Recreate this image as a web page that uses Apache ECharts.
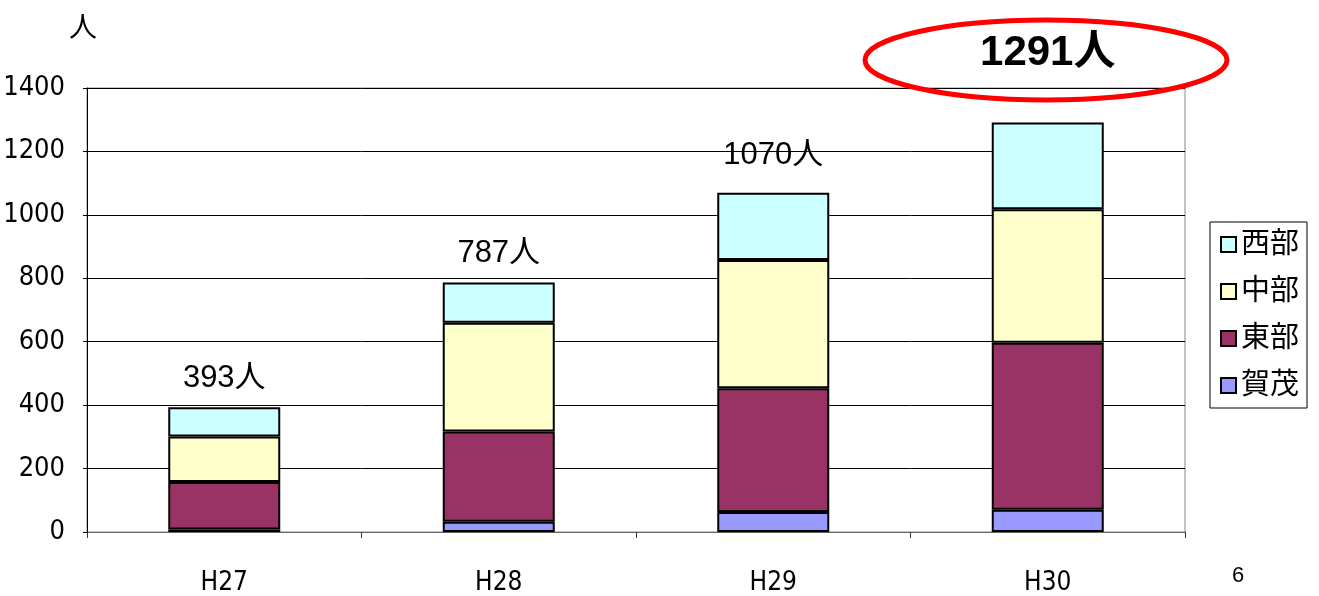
<!DOCTYPE html>
<html>
<head>
<meta charset="utf-8">
<script src="https://cdn.jsdelivr.net/npm/echarts@6/dist/echarts.min.js"></script>
<style>
html,body{margin:0;padding:0;background:#fff;}
#chart{width:1319px;height:596px;}
</style>
</head>
<body>
<div id="chart"></div>
<script>
// 年度
var years = ['H27', 'H28', 'H29', 'H30'];
// 地域別人数（下から積み上げ）
var kamo = [8, 32, 63, 70];
var tobu = [150, 285, 390, 527];
var chubu = [143, 343, 405, 421];
var seibu = [92, 127, 212, 273];
var yTicks = [0, 200, 400, 600, 800, 1000, 1200, 1400];

var narrow = '"Liberation Sans Narrow", "DejaVu Sans Condensed", "Liberation Sans", sans-serif';
var cjk = '"Liberation Sans", "Noto Sans CJK JP", sans-serif';

var totals = [];
for (var i = 0; i < years.length; i++) {
  totals.push(kamo[i] + tobu[i] + chubu[i] + seibu[i]);
}

// 合計ラベル（最後だけ太字）
var labelDist = [13, 13, 22, 48];
var seibuData = seibu.map(function (v, i) {
  var last = i === years.length - 1;
  return {
    value: v,
    label: {
      show: true,
      position: 'top',
      distance: labelDist[i],
      formatter: totals[i] + '人',
      fontFamily: cjk,
      fontSize: last ? 42 : 31,
      fontWeight: last ? 'bold' : 'normal',
      color: '#000'
    }
  };
});

var chart = echarts.init(document.getElementById('chart'));
var itemBorder = {borderColor: '#000', borderWidth: 2};

chart.setOption({
  animation: false,
  grid: {
    left: 87, right: 134, top: 88, bottom: 64,
    outerBoundsMode: 'none',
    containLabel: false,
    show: true, borderColor: '#888', borderWidth: 1
  },
  legend: {
    orient: 'vertical',
    left: 1210, top: 222,
    data: ['西部', '中部', '東部', '賀茂'],
    itemWidth: 15, itemHeight: 15,
    itemGap: 18,
    padding: [8, 8, 8, 10],
    borderColor: '#000', borderWidth: 1,
    textStyle: {fontFamily: cjk, fontSize: 29, color: '#000'},
    icon: 'rect'
  },
  xAxis: {
    type: 'category',
    data: years,
    axisLine: {lineStyle: {color: '#666', width: 1}},
    axisTick: {show: true, length: 6, lineStyle: {color: '#333'}},
    axisLabel: {fontFamily: narrow, fontSize: 26, color: '#000', margin: 38}
  },
  yAxis: {
    type: 'value',
    min: 0, max: 1400, interval: 200,
    name: '人',
    nameLocation: 'end',
    nameGap: 45,
    nameTextStyle: {fontFamily: cjk, fontSize: 28, color: '#000', align: 'left', padding: [0, 0, 0, -18]},
    axisLine: {show: true, lineStyle: {color: '#000', width: 1}},
    axisTick: {show: true, length: 4, lineStyle: {color: '#000'}},
    axisLabel: {
      fontFamily: narrow, fontSize: 27, color: '#000', margin: 22,
      formatter: function (v) { return yTicks.indexOf(v) >= 0 ? String(v) : ''; }
    },
    splitLine: {lineStyle: {color: '#000', width: 1}}
  },
  series: [
    {name: '賀茂', type: 'bar', stack: 'all', data: kamo, barWidth: 112,
      itemStyle: Object.assign({color: '#9999FF'}, itemBorder)},
    {name: '東部', type: 'bar', stack: 'all', data: tobu,
      itemStyle: Object.assign({color: '#993366'}, itemBorder)},
    {name: '中部', type: 'bar', stack: 'all', data: chubu,
      itemStyle: Object.assign({color: '#FFFFCC'}, itemBorder)},
    {name: '西部', type: 'bar', stack: 'all', data: seibuData,
      itemStyle: Object.assign({color: '#CCFFFF'}, itemBorder)}
  ],
  graphic: [
    {
      type: 'ellipse', z: 100,
      shape: {cx: 1046, cy: 60, rx: 181, ry: 40},
      style: {fill: 'none', stroke: '#FF0000', lineWidth: 5}
    },
    {
      type: 'text', left: 1232, top: 565,
      style: {text: '6', fontFamily: cjk, fontSize: 22, fill: '#000'}
    }
  ]
});
</script>
</body>
</html>
